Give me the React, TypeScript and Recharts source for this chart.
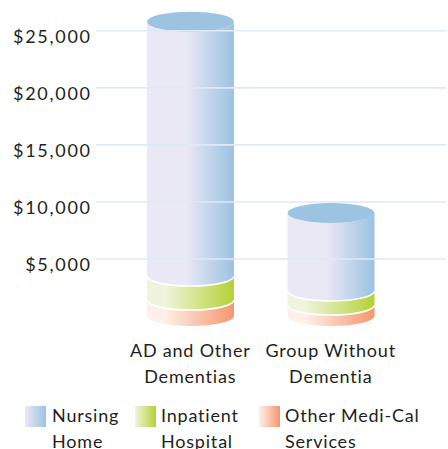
import React from "react";
import { BarChart, Bar, XAxis, YAxis, ReferenceLine, Legend } from "recharts";

const categories = ["AD and Other Dementias", "Group Without Dementia"];
const categoryLines = [["AD and Other", "Dementias"], ["Group Without", "Dementia"]];
const nursingHome = [22300, 6840];
const inpatientHospital = [2100, 1230];
const otherMediCal = [1400, 960];
const yTicks = [5000, 10000, 15000, 20000, 25000];

const series = [
  { key: "other", lines: ["Other Medi-Cal", "Services"], from: "#FEF0E8", to: "#F5966E" },
  { key: "inpatient", lines: ["Inpatient", "Hospital"], from: "#F1F4DC", to: "#B3D236" },
  { key: "nursing", lines: ["Nursing", "Home"], from: "#E9E8F4", to: "#9CC2E2" },
];

const data = categories.map((c, i) => ({
  name: c,
  other: otherMediCal[i],
  inpatient: inpatientHospital[i],
  nursing: nursingHome[i],
}));

const FONT = "Lato, 'Noto Sans', sans-serif";
const TEXT = "#231F20";

function makeCylinder(gradId: string, withCap: boolean, withSeam: boolean) {
  return (props: any) => {
    const { x, y, width, height } = props;
    if (!height) return <g />;
    const rx = width / 2;
    const ry = 10;
    const y0 = y;
    const y1 = y + height;
    const body = `M${x},${y0} L${x},${y1} A${rx},${ry} 0 0 0 ${x + width},${y1} L${x + width},${y0} A${rx},${ry} 0 0 1 ${x},${y0} Z`;
    return (
      <g>
        <path d={body} fill={`url(#${gradId})`} />
        {withSeam && (
          <path d={`M${x},${y1} A${rx},${ry} 0 0 0 ${x + width},${y1}`} fill="none" stroke="#fff" strokeWidth={1.6} />
        )}
        {withCap && <ellipse cx={x + rx} cy={y0} rx={rx} ry={ry} fill="#9DC3E3" />}
      </g>
    );
  };
}

const YTick = (props: any) => {
  const { x, y, payload } = props;
  return (
    <text x={x + 1.7} y={y + 12} textAnchor="end" fontFamily={FONT} fontSize={18} letterSpacing={1.7} fill={TEXT}>
      {"$" + payload.value.toLocaleString("en-US")}
    </text>
  );
};

const XTick = (props: any) => {
  const { x, y, index } = props;
  const lines = categoryLines[index] || [];
  return (
    <text textAnchor="middle" fontFamily={FONT} fontSize={18} letterSpacing={0.8} fill={TEXT}>
      <tspan x={x} y={y + 41}>{lines[0]}</tspan>
      <tspan x={x} y={y + 67}>{lines[1]}</tspan>
    </text>
  );
};

const legendOrder = [series[2], series[1], series[0]];
const legendPos = [
  { sw: 25, tx: 52 },
  { sw: 135, tx: 161 },
  { sw: 259, tx: 285 },
];

const renderLegend = () => (
  <div style={{ position: "relative", width: 448, height: 55, fontFamily: FONT, fontSize: 18, letterSpacing: 0.8, color: TEXT }}>
    {legendOrder.map((s, i) => (
      <React.Fragment key={s.key}>
        <div
          style={{
            position: "absolute",
            left: legendPos[i].sw,
            top: 12,
            width: 21,
            height: 21,
            background: `linear-gradient(to right, ${s.from}, ${s.to})`,
          }}
        />
        <div style={{ position: "absolute", left: legendPos[i].tx, top: 8, lineHeight: "26px", whiteSpace: "nowrap" }}>
          {s.lines[0]}
          <br />
          {s.lines[1]}
        </div>
      </React.Fragment>
    ))}
  </div>
);

export default function App() {
  return (
    <div style={{ position: "absolute", left: 0, top: 0, width: 448, height: 449, background: "#fff" }}>
      <BarChart width={448} height={449} data={data} margin={{ top: 8, right: 2, left: 0, bottom: 0 }}>
        <defs>
          {series.map((s) => (
            <linearGradient key={s.key} id={`grad-${s.key}`} x1="0" y1="0" x2="1" y2="0">
              <stop offset="0%" stopColor={s.from} />
              <stop offset={s.key === "nursing" ? "45%" : "20%"} stopColor={s.from} />
              <stop offset="100%" stopColor={s.to} />
            </linearGradient>
          ))}
        </defs>
        {yTicks.map((t) => (
          <ReferenceLine key={t} y={t} stroke="#DFE9F6" strokeWidth={1.6} />
        ))}
        <YAxis
          width={96}
          domain={[0, 27000]}
          ticks={yTicks}
          axisLine={false}
          tickLine={false}
          tickSize={6}
          tickMargin={0}
          tick={<YTick />}
        />
        <XAxis
          dataKey="name"
          height={78}
          axisLine={false}
          tickLine={false}
          tickSize={0}
          tickMargin={0}
          padding={{ left: 24, right: 45 }}
          interval={0}
          tick={<XTick />}
        />
        <Legend verticalAlign="bottom" content={renderLegend} wrapperStyle={{ left: 0, width: 448, height: 55 }} />
        <Bar dataKey="other" stackId="a" barSize={87} isAnimationActive={false} shape={makeCylinder("grad-other", false, false)} />
        <Bar dataKey="inpatient" stackId="a" barSize={87} isAnimationActive={false} shape={makeCylinder("grad-inpatient", false, true)} />
        <Bar dataKey="nursing" stackId="a" barSize={87} isAnimationActive={false} shape={makeCylinder("grad-nursing", true, true)} />
      </BarChart>
    </div>
  );
}
